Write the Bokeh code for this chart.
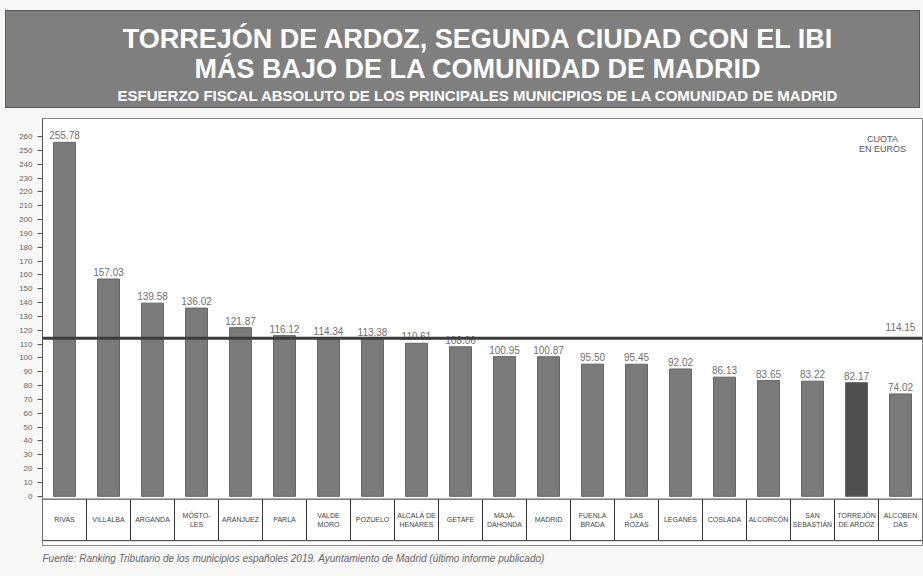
from bokeh.plotting import figure
from bokeh.layouts import column
from bokeh.models import Span, Title, FixedTicker, Range1d, FactorRange, Div
from bokeh.core.properties import value
from bokeh.embed import file_html
from bokeh.resources import INLINE

# ---- data ----
title_lines = [
    "TORREJÓN DE ARDOZ, SEGUNDA CIUDAD CON EL IBI",
    "MÁS BAJO DE LA COMUNIDAD DE MADRID",
    "ESFUERZO FISCAL ABSOLUTO DE LOS PRINCIPALES MUNICIPIOS DE LA COMUNIDAD DE MADRID",
]
municipios = [
    "RIVAS", "VILLALBA", "ARGANDA", "MÓSTO-\nLES", "ARANJUEZ", "PARLA",
    "VALDE\nMORO", "POZUELO", "ALCALÁ DE\nHENARES", "GETAFE", "MAJA-\nDAHONDA",
    "MADRID", "FUENLA\nBRADA", "LAS\nROZAS", "LEGANÉS", "COSLADA",
    "ALCORCÓN", "SAN\nSEBASTIÁN", "TORREJÓN\nDE ARDOZ", "ALCOBEN\nDAS",
]
cuota = [
    255.78, 157.03, 139.58, 136.02, 121.87, 116.12,
    114.34, 113.38, 110.61, 108.06, 100.95,
    100.87, 95.50, 95.45, 92.02, 86.13,
    83.65, 83.22, 82.17, 74.02,
]
media = 114.15
destacado = "TORREJÓN\nDE ARDOZ"
y_ticks = list(range(0, 261, 10))
unidad = "CUOTA\nEN EUROS"
fuente = ("Fuente: Ranking Tributario de los municipios españoles 2019. "
          "Ayuntamiento de Madrid (último informe publicado)")

FONT = value("Liberation Sans")
BANNER = "#7f7f7f"
PAPER = "#f7f7f5"

# ---- title banner ----
banner_html = (
    f"<div style='font-size:27px;line-height:30px;padding-top:13px'>{title_lines[0]}<br>{title_lines[1]}</div>"
    f"<div style='font-size:15px;line-height:24px'>{title_lines[2]}</div>"
)
t = Div(text=banner_html, width=915, height=98, margin=(10, 3, 4, 5),
        styles={"background-color": BANNER, "color": "white", "text-align": "center",
                "font-family": "'Liberation Sans', sans-serif", "font-weight": "bold",
                "border": "1px solid #5a5a5a", "box-sizing": "border-box",
                "padding-left": "30px", "display": "block", "width": "915px"})

# ---- main chart ----
p = figure(width=923, height=464, x_range=FactorRange(*municipios),
           y_range=Range1d(-35.5, 273), toolbar_location=None, output_backend="svg",
           min_border_left=42, min_border_right=1, min_border_top=6, min_border_bottom=31)
p.background_fill_color = "white"
p.border_fill_color = PAPER
p.outline_line_color = "#888888"
p.grid.visible = False
p.xaxis.visible = False

p.yaxis.ticker = FixedTicker(ticks=y_ticks)
p.yaxis.bounds = (0, 273)
p.yaxis.major_label_text_font_size = "8px"
p.yaxis.major_label_text_color = "#666666"
p.yaxis.major_label_text_font = "Liberation Sans"
p.yaxis.major_tick_out = 5
p.yaxis.major_tick_in = 0
p.yaxis.minor_tick_line_color = None
p.yaxis.axis_line_color = "#555555"
p.yaxis.major_tick_line_color = "#555555"

colors = ["#4f4f4f" if m == destacado else "#7a7a7a" for m in municipios]
p.vbar(x=municipios, top=cuota, bottom=0, width=0.5, fill_color=colors,
       line_color="#666666", line_width=1)

# value labels
p.text(x=municipios, y=cuota, text=[f"{v:.2f}" for v in cuota], text_align="center",
       text_baseline="bottom", y_offset=-3, text_font=FONT, text_font_size="10px",
       text_color="#707070")

# average line
p.add_layout(Span(location=media, dimension="width", line_color="#3c3c3c", line_width=3))
p.text(x=[municipios[-1]], y=[media], text=[f"{media:.2f}"], text_align="center",
       text_baseline="bottom", y_offset=-7, text_font=FONT, text_font_size="10px",
       text_color="#707070")

# unit label
p.text(x=[municipios[-1]], y=[262], text=[unidad], text_align="center", text_baseline="top",
       x_offset=-18, text_font=FONT, text_font_size="9px", text_color="#555555",
       text_line_height=1.0)

# category boxes
p.rect(x=municipios, y=[-17] * len(municipios), width=1, height=30,
       fill_color="white", line_color="#333333", line_width=1)
p.text(x=municipios, y=[-17] * len(municipios), text=municipios, text_align="center",
       text_baseline="middle", text_font=FONT, text_font_size="7px",
       text_color="#444444", text_line_height=1.3)

p.add_layout(Title(text=fuente, text_font_style="italic", text_font_size="10px",
                   text_color="#666666", align="left", text_font="Liberation Sans"), "below")

layout = column(t, p, spacing=0, styles={"background-color": PAPER})
open("out.html", "w").write(file_html(layout, INLINE))
